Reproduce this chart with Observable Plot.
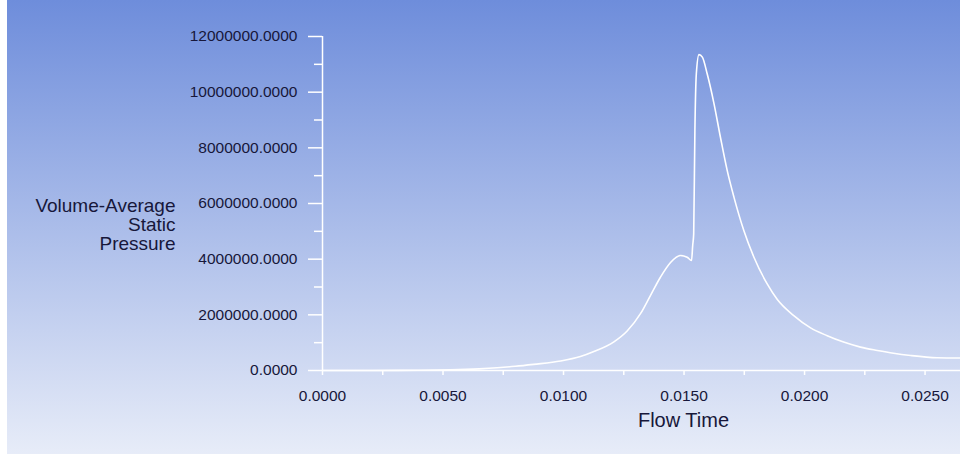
<!DOCTYPE html>
<html>
<head>
<meta charset="utf-8">
<script src="https://cdn.jsdelivr.net/npm/d3@7"></script>
<script src="https://cdn.jsdelivr.net/npm/@observablehq/plot@0.6"></script>
<style>
  html, body { margin: 0; padding: 0; background: #ffffff; }
  #wrap { position: relative; width: 960px; height: 455px; overflow: hidden; }
  #bg { position: absolute; left: 7px; top: 0; width: 953px; height: 454px;
        background: linear-gradient(to bottom, #6e8ddb 0%, #e7ecf8 100%); }
  #chart { position: absolute; left: 0; top: 0; }
  #chart svg { background: transparent !important; }
</style>
</head>
<body>
<div id="wrap"><div id="bg"></div><div id="chart"></div></div>
<script>
// Flow time (s) and volume-average static pressure
const flowTime = [0, 0.002, 0.004, 0.0053, 0.0065, 0.00725, 0.008, 0.00876, 0.00988, 0.0107,
  0.01126, 0.01209, 0.01264, 0.0132, 0.01361, 0.01402, 0.01444, 0.01485, 0.01513, 0.01531,
  0.01536, 0.0154, 0.01545, 0.01551, 0.01562, 0.01576, 0.01596, 0.01624, 0.01651, 0.01679,
  0.01707, 0.01748, 0.0179, 0.01845, 0.01887, 0.01954, 0.02025, 0.02094, 0.02162, 0.02232,
  0.02302, 0.02369, 0.0244, 0.0255, 0.02647];
const pressure = [0, 2000, 8000, 25000, 60000, 97000, 150000, 220000, 340000, 500000,
  680000, 1030000, 1420000, 2050000, 2700000, 3350000, 3880000, 4130000, 4070000, 3950000,
  4500000, 4900000, 8600000, 10660000, 11350000, 11260000, 10660000, 9600000, 8380000, 7190000,
  6230000, 5030000, 4070000, 3110000, 2550000, 1980000, 1530000, 1250000, 1020000, 840000,
  720000, 620000, 540000, 460000, 450000];

const xMajorTicks = [0, 0.005, 0.01, 0.015, 0.02, 0.025];
const xMinorTicks = [0.0025, 0.0075, 0.0125, 0.0175, 0.0225];
const yMajorTicks = [0, 2000000, 4000000, 6000000, 8000000, 10000000, 12000000];
const yMinorTicks = [1000000, 3000000, 5000000, 7000000, 9000000, 11000000];
const xTitle = "Flow Time";
const yTitle = "Volume-Average\nStatic\nPressure";

const data = flowTime.map((t, i) => ({t, p: pressure[i]}));
const textColor = "#17173a";
const font = "'Liberation Sans', Arial, sans-serif";

const chart = Plot.plot({
  width: 960,
  height: 455,
  marginLeft: 322,
  marginRight: 0,
  marginTop: 36,
  marginBottom: 85,
  style: {background: "transparent", fontFamily: font, color: textColor},
  x: {domain: [0, 0.02647]},
  y: {domain: [0, 12000000]},
  marks: [
    Plot.axisY({ticks: yMajorTicks, tickSize: 14, tickPadding: 11, tickFormat: d => d.toFixed(4),
      fontSize: 15.5, stroke: "white", strokeWidth: 1.5, fill: textColor, label: null}),
    Plot.axisY({ticks: yMinorTicks, tickSize: 8, tickFormat: () => "", stroke: "white",
      strokeWidth: 1.5, label: null}),
    Plot.axisX({ticks: xMajorTicks, tickSize: 5, tickPadding: 14, tickFormat: d => d.toFixed(4),
      fontSize: 15.5, stroke: "white", strokeWidth: 1.5, fill: textColor, label: null}),
    Plot.axisX({ticks: xMinorTicks, tickSize: 5, tickFormat: () => "", stroke: "white",
      strokeWidth: 1.5, label: null}),
    Plot.ruleX([0], {y1: 0, y2: 12000000, stroke: "white", strokeWidth: 1.5}),
    Plot.ruleY([0], {stroke: "white", strokeWidth: 1.5}),
    Plot.line(data, {x: "t", y: "p", stroke: "white", strokeWidth: 1.6, curve: "monotone-x"}),
    Plot.text([xTitle], {frameAnchor: "bottom", dx: 42, dy: 56, lineAnchor: "bottom",
      fontSize: 20, fill: textColor}),
    Plot.text([yTitle], {frameAnchor: "left", dx: -147, dy: 21, textAnchor: "end",
      lineAnchor: "middle", lineHeight: 1.0, fontSize: 19, fill: textColor})
  ]
});
document.getElementById("chart").appendChild(chart);
</script>
</body>
</html>
